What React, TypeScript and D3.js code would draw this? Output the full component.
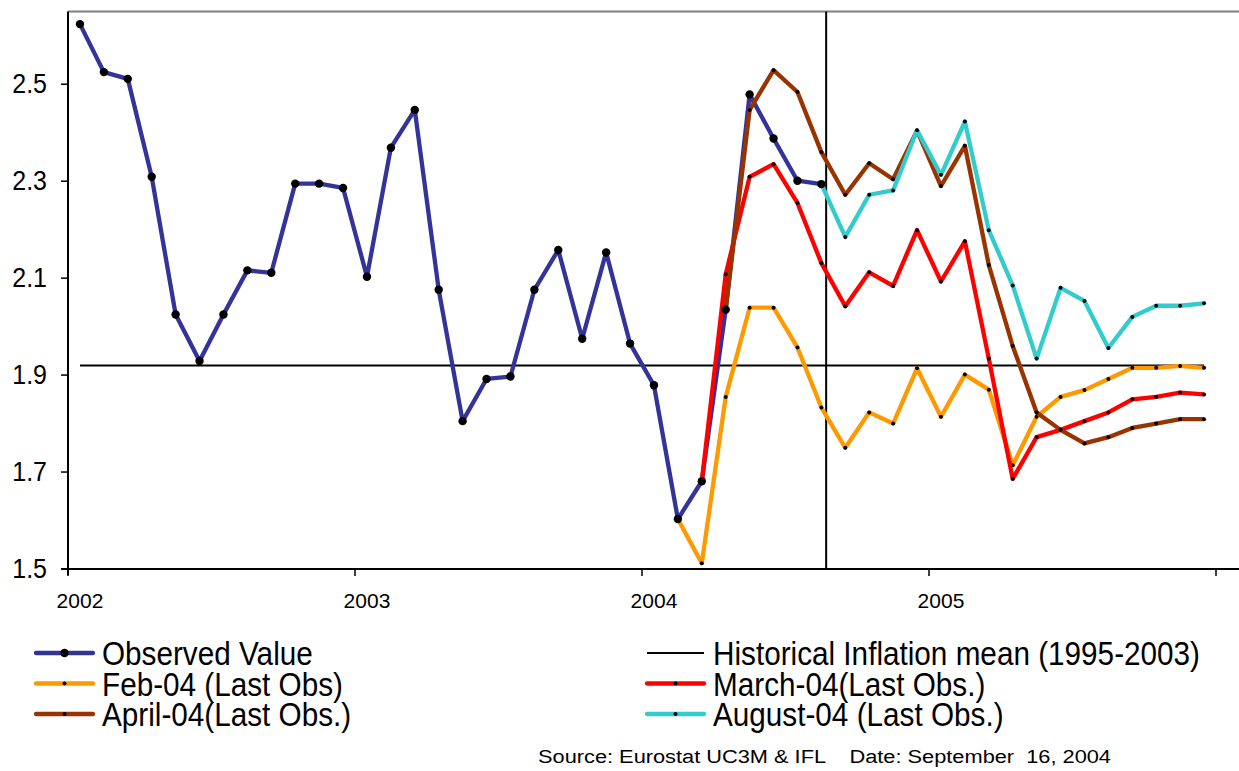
import React from 'react';
import * as d3 from 'd3';

// month index 0 = Jan 2002 ... 47 = Dec 2005
const yearLabels = ['2002', '2003', '2004', '2005'];
const yTicks = [1.5, 1.7, 1.9, 2.1, 2.3, 2.5];

const historicalMean = 1.92;
const cutoffMonth = 31.7; // vertical marker, around Aug 2004

// Observed HICP inflation, Jan 2002 - Aug 2004
const observed = [
  2.624, 2.525, 2.511, 2.309, 2.025, 1.929, 2.025, 2.116, 2.111, 2.295, 2.295, 2.286,
  2.103, 2.369, 2.447, 2.076, 1.805, 1.892, 1.897, 2.076, 2.158, 1.975, 2.153, 1.965,
  1.879, 1.603, 1.681, 2.035, 2.479, 2.388, 2.301, 2.294,
];

// forecasts, each starting at its last observation
const febStart = 25;
const febForecast = [
  1.603, 1.512, 1.855, 2.039, 2.039, 1.957, 1.833, 1.75, 1.823, 1.8, 1.914, 1.814,
  1.901, 1.87, 1.714, 1.814, 1.855, 1.869, 1.892, 1.915, 1.915, 1.919, 1.915,
];
const marchStart = 26;
const marchForecast = [
  1.681, 2.108, 2.309, 2.335, 2.255, 2.131, 2.042, 2.112, 2.084, 2.199, 2.093,
  2.176, 1.934, 1.686, 1.772, 1.787, 1.805, 1.823, 1.85, 1.855, 1.864, 1.86,
];
const aprilStart = 27;
const aprilForecast = [
  2.035, 2.447, 2.529, 2.484, 2.36, 2.272, 2.337, 2.304, 2.404, 2.29, 2.373,
  2.127, 1.96, 1.823, 1.787, 1.759, 1.772, 1.791, 1.8, 1.809, 1.809,
];
const augustStart = 31;
const augustForecast = [
  2.294, 2.185, 2.272, 2.281, 2.405, 2.313, 2.423, 2.199, 2.085, 1.934, 2.08,
  2.053, 1.956, 2.02, 2.043, 2.043, 2.048,
];

type Pt = [number, number];
const toPts = (vals: number[], start: number): Pt[] => vals.map((v, i) => [start + i, v]);

const forecasts = [
  { name: 'Feb-04 (Last Obs)', color: '#FF9900', pts: toPts(febForecast, febStart) },
  { name: 'March-04(Last Obs.)', color: '#FF0000', pts: toPts(marchForecast, marchStart) },
  { name: 'April-04(Last Obs.)', color: '#993300', pts: toPts(aprilForecast, aprilStart) },
  { name: 'August-04 (Last Obs.)', color: '#33CCCC', pts: toPts(augustForecast, augustStart) },
];
const observedPts = toPts(observed, 0);

const W = 1239;
const H = 771;
const FONT = '"Liberation Sans", Arial, sans-serif';

const App: React.FC = () => {
  const x = d3.scaleLinear().domain([0, 48]).range([68, 1216]);
  const y = d3.scaleLinear().domain([1.5, 2.65]).range([569, 11.5]);
  const line = d3
    .line<Pt>()
    .x((d) => x(d[0] + 0.5))
    .y((d) => y(d[1]));

  // legend layout
  const legendRows = [
    { label: 'Observed Value', color: '#333399', big: true, col: 0, row: 0 },
    { label: 'Historical Inflation mean (1995-2003)', color: '#000', thin: true, col: 1, row: 0 },
    { label: forecasts[0].name, color: forecasts[0].color, col: 0, row: 1 },
    { label: forecasts[1].name, color: forecasts[1].color, col: 1, row: 1 },
    { label: forecasts[2].name, color: forecasts[2].color, col: 0, row: 2 },
    { label: forecasts[3].name, color: forecasts[3].color, col: 1, row: 2 },
  ];
  const colX = [36, 647];

  return (
    <svg
      width={W}
      height={H}
      style={{ position: 'absolute', left: 0, top: 0, background: '#fff' }}
      fontFamily={FONT}
    >
      {/* plot frame */}
      <line x1={68} x2={W} y1={11.5} y2={11.5} stroke="#808080" strokeWidth={2} />

      {/* reference lines */}
      <line
        x1={x(0.5)}
        x2={x(47.5)}
        y1={y(historicalMean)}
        y2={y(historicalMean)}
        stroke="#000"
        strokeWidth={2}
      />
      <line
        x1={x(cutoffMonth)}
        x2={x(cutoffMonth)}
        y1={11.5}
        y2={569}
        stroke="#000"
        strokeWidth={2}
      />

      {/* observed line */}
      <path d={line(observedPts) ?? ''} fill="none" stroke="#333399" strokeWidth={4.3} strokeLinejoin="round" />

      {/* forecast lines */}
      {forecasts.map((f) => (
        <g key={f.name}>
          <path d={line(f.pts) ?? ''} fill="none" stroke={f.color} strokeWidth={4.3} strokeLinejoin="round" />
          {f.pts.map((p, i) => (
            <circle key={i} cx={x(p[0] + 0.5)} cy={y(p[1])} r={2} fill="#000" />
          ))}
        </g>
      ))}

      {/* observed markers on top */}
      {observedPts.map((p, i) => (
        <circle key={i} cx={x(p[0] + 0.5)} cy={y(p[1])} r={4.2} fill="#000" />
      ))}

      {/* axes */}
      <line x1={68} x2={68} y1={11.5} y2={575} stroke="#000" strokeWidth={2} />
      <line x1={61} x2={W} y1={569} y2={569} stroke="#000" strokeWidth={2} />
      {yTicks.map((t) => (
        <g key={t}>
          <line x1={61} x2={68} y1={y(t)} y2={y(t)} stroke="#000" strokeWidth={1.5} />
          <text
            transform={`translate(47,${y(t) + 9}) scale(1,1.12)`}
            textAnchor="end"
            fontSize={25}
            fill="#000"
          >
            {t.toFixed(1)}
          </text>
        </g>
      ))}
      {[0, 12, 24, 36, 48].map((m) => (
        <line key={m} x1={x(m)} x2={x(m)} y1={569} y2={576} stroke="#000" strokeWidth={1.5} />
      ))}
      {yearLabels.map((lab, i) => (
        <text key={lab} x={x(i * 12 + 0.5)} y={608} textAnchor="middle" fontSize={21} fill="#000">
          {lab}
        </text>
      ))}

      {/* legend */}
      {legendRows.map((r) => {
        const lx = colX[r.col];
        const ly = 653 + r.row * 30.5;
        return (
          <g key={r.label}>
            <line
              x1={lx}
              x2={lx + 57}
              y1={ly}
              y2={ly}
              stroke={r.color}
              strokeWidth={r.thin ? 2 : 4.3}
              strokeLinecap={r.thin ? 'butt' : 'round'}
            />
            {!r.thin && <circle cx={lx + 28.5} cy={ly} r={r.big ? 4.2 : 2} fill="#000" />}
            <text
              transform={`translate(${lx + 66},${ly + 12}) scale(1,1.1)`}
              fontSize={29.7}
              fill="#000"
            >
              {r.label}
            </text>
          </g>
        );
      })}

      {/* source note */}
      <text
        x={538}
        y={763}
        fontSize={18}
        textLength={573}
        lengthAdjust="spacingAndGlyphs"
        style={{ whiteSpace: 'pre' }}
        fill="#000"
      >
        {'Source: Eurostat UC3M & IFL    Date: September  16, 2004'}
      </text>
    </svg>
  );
};

export default App;
